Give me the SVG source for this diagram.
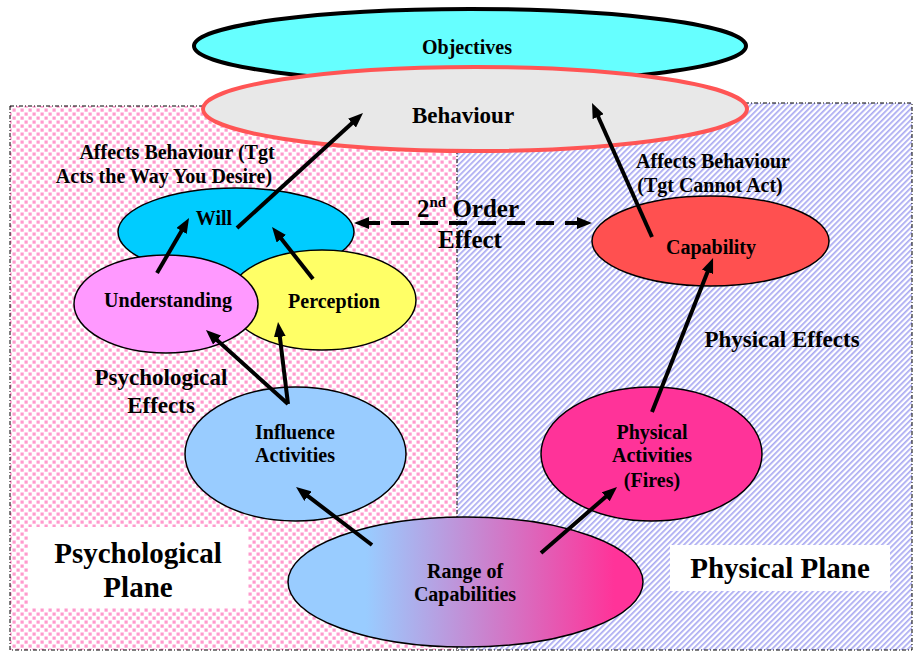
<svg xmlns="http://www.w3.org/2000/svg" width="914" height="652" viewBox="0 0 914 652">
<defs>
<style>
text{font-family:"Liberation Serif","Times New Roman",serif;font-weight:bold;fill:#000;text-anchor:middle}
.n{font-size:20px}
.node{stroke:#000;stroke-width:1.5}
.plane{stroke:#000;stroke-width:1;stroke-dasharray:4 2 1 2}
.arr{stroke:#000;stroke-width:4;fill:none;marker-end:url(#ah)}
.dash{stroke:#000;stroke-width:4;fill:none;stroke-dasharray:18 11;marker-start:url(#ah);marker-end:url(#ah)}
</style>
<pattern id="dots" width="8" height="8" patternUnits="userSpaceOnUse">
<rect width="8" height="8" fill="#fff"/>
<rect x="0.5" y="0.5" width="3.2" height="3.2" fill="#FF9ACD"/>
<rect x="4.5" y="4.5" width="3.2" height="3.2" fill="#FF9ACD"/>
</pattern>
<pattern id="hatch" width="4" height="4" patternUnits="userSpaceOnUse" patternTransform="rotate(45)">
<rect width="4" height="4" fill="#fff"/>
<rect x="0" y="0" width="1.7" height="4" fill="#AAAAF2"/>
</pattern>
<linearGradient id="rg" x1="0" y1="0" x2="1" y2="0">
<stop offset="0.22" stop-color="#99CCFF"/>
<stop offset="0.92" stop-color="#FF3399"/>
</linearGradient>
<marker id="ah" markerUnits="userSpaceOnUse" markerWidth="15" markerHeight="12" refX="7" refY="6" orient="auto-start-reverse">
<path d="M0,0 L15,6 L0,12 z" fill="#000"/>
</marker>
</defs>

<g id="psych-plane">
<rect class="plane" x="10" y="106" width="448" height="544" fill="url(#dots)"/>
</g>
<g id="phys-plane">
<rect class="plane" x="457" y="103" width="455" height="547" fill="url(#hatch)"/>
</g>

<g id="objectives">
<ellipse cx="470" cy="46" rx="276" ry="37" fill="#66FFFF" stroke="#000" stroke-width="4"/>
<text class="n" x="467" y="54">Objectives</text>
</g>
<g id="behaviour">
<ellipse cx="475" cy="109" rx="272" ry="42" fill="#E8E8E8" stroke="#FF5555" stroke-width="4"/>
<text x="463" y="123" font-size="23">Behaviour</text>
</g>

<g id="will">
<ellipse class="node" cx="236" cy="232" rx="118" ry="44" fill="#00CCFF"/>
<text class="n" x="214" y="225">Will</text>
</g>
<g id="perception">
<ellipse class="node" cx="322" cy="300" rx="94" ry="50" fill="#FFFF66"/>
<text class="n" x="334" y="308">Perception</text>
</g>
<g id="understanding">
<ellipse class="node" cx="166" cy="304" rx="92" ry="49" fill="#FF99FF"/>
<text class="n" x="168" y="307">Understanding</text>
</g>
<g id="capability">
<ellipse class="node" cx="710.5" cy="241" rx="118.5" ry="45" fill="#FF5050"/>
<text class="n" x="711" y="254">Capability</text>
</g>
<g id="influence">
<ellipse class="node" cx="295.5" cy="454" rx="110.5" ry="67" fill="#99CCFF"/>
<text class="n" x="295" y="439">Influence</text>
<text class="n" x="295" y="462">Activities</text>
</g>
<g id="physical-activities">
<ellipse class="node" cx="651.5" cy="454" rx="110.5" ry="67" fill="#FF3399"/>
<text class="n" x="652" y="439">Physical</text>
<text class="n" x="652" y="462">Activities</text>
<text class="n" x="652" y="487">(Fires)</text>
</g>
<g id="range">
<ellipse class="node" cx="465.5" cy="582" rx="177.5" ry="65" fill="url(#rg)"/>
<text class="n" x="465" y="578">Range of</text>
<text class="n" x="465" y="601">Capabilities</text>
</g>

<g id="plane-labels">
<rect x="28" y="527" width="220" height="81" fill="#fff"/>
<text x="138" y="563" font-size="29">Psychological</text>
<text x="138" y="597" font-size="29">Plane</text>
<rect x="670" y="545" width="220" height="46" fill="#fff"/>
<text x="780" y="578" font-size="29">Physical Plane</text>
</g>

<g id="labels">
<text class="n" x="177" y="159">Affects Behaviour (Tgt</text>
<text class="n" x="164" y="183">Acts the Way You Desire)</text>
<text class="n" x="713" y="168">Affects Behaviour</text>
<text class="n" x="710" y="192">(Tgt Cannot Act)</text>
<text x="782" y="347" font-size="23">Physical Effects</text>
<text x="161" y="385" font-size="23">Psychological</text>
<text x="161" y="413" font-size="23">Effects</text>
</g>

<g id="connectors">
<line class="dash" x1="362" y1="223" x2="584" y2="223"/>
<line class="arr" x1="237" y1="228" x2="357.1" y2="118.4"/>
<line class="arr" x1="157" y1="273" x2="185" y2="224.9"/>
<line class="arr" x1="313" y1="279" x2="277" y2="233.3"/>
<line class="arr" x1="288" y1="404" x2="211.9" y2="335.4"/>
<line class="arr" x1="288" y1="404" x2="279" y2="329.9"/>
<line class="arr" x1="372" y1="545" x2="302.4" y2="491.9"/>
<line class="arr" x1="541" y1="553" x2="611" y2="492.2"/>
<line class="arr" x1="652" y1="412" x2="710.1" y2="265.4"/>
<line class="arr" x1="652" y1="237" x2="595.3" y2="110.3"/>
</g>

<g id="order-label">
<text x="468" y="217" font-size="25"><tspan>2</tspan><tspan font-size="15" dy="-10">nd</tspan><tspan dy="10"> Order</tspan></text>
<text x="470" y="248" font-size="25">Effect</text>
</g>
</svg>
